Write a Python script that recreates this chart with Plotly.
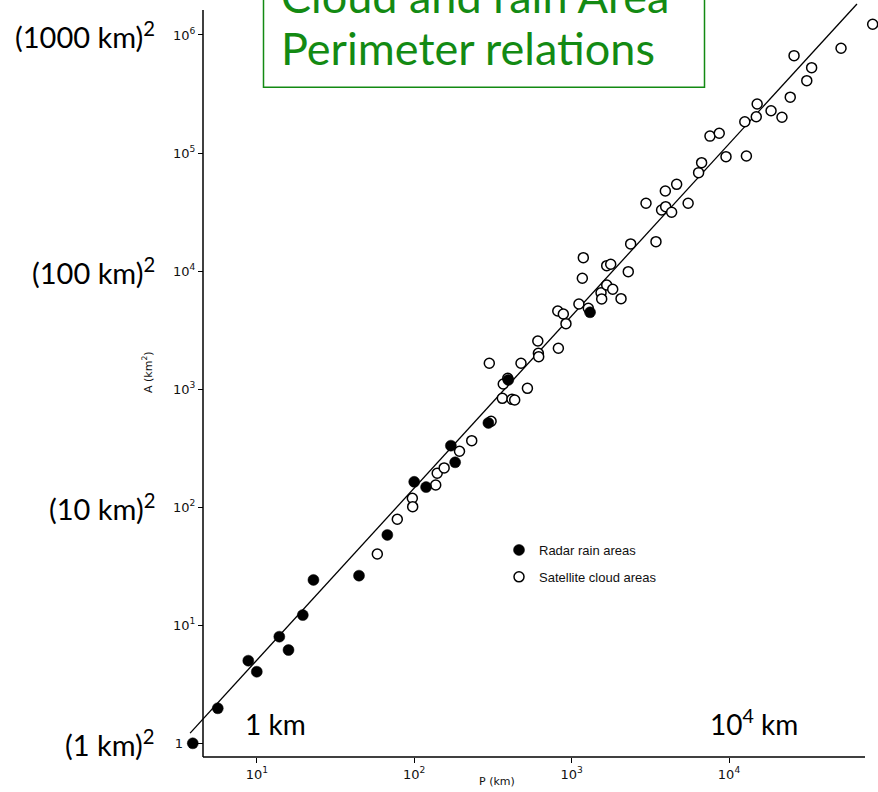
import math
import plotly.graph_objects as go

# ---------------- data ----------------
radar_P = [3.92, 5.65, 8.83, 10.0, 13.9, 15.9, 19.6, 22.9, 44.6, 67.5,
           100, 119, 171, 182, 296, 396, 1310]
radar_A = [1.0, 1.98, 5.01, 4.04, 8.0, 6.17, 12.2, 24.2, 26.3, 58.2,
           164, 148, 332, 240, 517, 1196, 4477]

sat_P = [58.3, 78.1, 97.3, 97.8, 137, 140, 155, 194, 232, 308,
         300, 363, 368, 393, 418, 435, 477, 524, 610, 615,
         618, 824, 817, 886, 921, 1113, 1277, 1170, 1187, 1538,
         1553, 1671, 1825, 2061, 1671, 1772, 2291, 2373, 3436, 2970,
         3730, 3960, 4320, 3940, 4650, 5500, 6410, 6700, 7570, 8670,
         9570, 12900, 12600, 14900, 15100, 18500, 21700, 24500, 25900, 31200,
         33500, 51500, 81800]
sat_A = [40.1, 79, 119, 101, 154, 194, 215, 298, 366, 534,
         1656, 836, 1106, 1236, 820, 809, 1656, 1016, 2559, 2013,
         1884, 2218, 4592, 4333, 3584, 5262, 4841, 8690, 12980, 6561,
         5806, 7621, 7014, 5838, 11110, 11420, 9885, 16980, 17750, 37500,
         32900, 35100, 31500, 47700, 54300, 37500, 68200, 82800, 139000, 147000,
         93100, 94400, 184000, 203000, 260000, 228000, 201000, 297000, 668000, 410000,
         528000, 772000, 1233000]

fit_P = [3.77, 65000]
fit_A = [1.22, 1.83e6]

x_tickvals = [10, 100, 1000, 10000]
x_ticktext = ["10<sup>1</sup>", "10<sup>2</sup>", "10<sup>3</sup>", "10<sup>4</sup>"]
y_tickvals = [1, 10, 100, 1000, 10000, 100000, 1000000]
y_ticktext = ["1&nbsp;&nbsp;&nbsp;", "10<sup>1</sup>", "10<sup>2</sup>", "10<sup>3</sup>",
              "10<sup>4</sup>", "10<sup>5</sup>", "10<sup>6</sup>"]

scale_labels = ["(1 km)<sup>2</sup>", "(10 km)<sup>2</sup>",
                "(100 km)<sup>2</sup>", "(1000 km)<sup>2</sup>"]
scale_label_A = [1, 100, 10000, 1000000]

title_lines = ["Cloud and rain Area", "Perimeter relations"]
series_names = ["Radar rain areas", "Satellite cloud areas"]

# ---------------- layout geometry ----------------
W, H = 878, 792
PL, PR, PT, PB = 180, 878, 0, 757   # plotting region (clip area)
AX = 203                            # pixel x of the drawn vertical axis
X_ZERO, X_DEC = 256.8, 157.4        # pixel of P=10 and pixels per decade
GREEN = "#138a13"

x_lo = 1 - (X_ZERO - PL) / X_DEC
x_hi = 1 + (PR - X_ZERO) / X_DEC


def px(x):
    return (x - PL) / (PR - PL)


def py(y):
    return (PB - y) / (PB - PT)


fig = go.Figure()

fig.add_trace(go.Scatter(x=fit_P, y=fit_A, mode="lines",
                         line=dict(color="black", width=1.3),
                         showlegend=False, hoverinfo="skip"))

fig.add_trace(go.Scatter(x=sat_P, y=sat_A, mode="markers", name=series_names[1],
                         legendgroup="b", legendrank=2, cliponaxis=False,
                         marker=dict(symbol="circle", size=10, color="white",
                                     line=dict(color="black", width=1.5))))

fig.add_trace(go.Scatter(x=radar_P, y=radar_A, mode="markers", name=series_names[0],
                         legendgroup="a", legendrank=1, cliponaxis=False,
                         marker=dict(symbol="circle", size=11, color="black",
                                     line=dict(color="black", width=0.5))))

tickfont = dict(family="DejaVu Sans", size=13, color="#111")

fig.update_xaxes(type="log", range=[x_lo, x_hi], showgrid=False, zeroline=False,
                 showline=False, ticks="outside", ticklen=5, tickcolor="black",
                 tickvals=x_tickvals, ticktext=x_ticktext, tickfont=tickfont)
fig.update_yaxes(type="log", range=[-0.116, 6.296], showgrid=False, zeroline=False,
                 showline=False, ticks="outside", ticklen=5, tickcolor="black",
                 anchor="free", position=px(AX),
                 tickvals=y_tickvals, ticktext=y_ticktext, tickfont=tickfont)

shapes = [
    dict(type="line", xref="paper", yref="paper", x0=px(AX), x1=px(865), y0=0, y1=0,
         line=dict(color="black", width=1.5)),
    dict(type="line", xref="paper", yref="paper", x0=px(AX), x1=px(AX), y0=0, y1=py(10),
         line=dict(color="black", width=1.5)),
    dict(type="rect", xref="paper", yref="paper", x0=px(263.5), x1=px(704.5),
         y0=py(87.3), y1=py(-20), line=dict(color=GREEN, width=1.5)),
]

annotations = []
for lab, a in zip(scale_labels, scale_label_A):
    annotations.append(dict(text=lab, xref="paper", yref="y", x=px(157),
                            y=math.log10(a), xanchor="right", yanchor="middle",
                            showarrow=False,
                            font=dict(family="Lato", size=29, color="black")))

for line_text, yc in zip(title_lines, [-4, 48]):
    annotations.append(dict(text=line_text, xref="paper", yref="paper",
                            x=px(279), y=py(yc), xanchor="left", yanchor="middle",
                            align="left", showarrow=False,
                            font=dict(family="Lato", size=45, color=GREEN)))

annotations += [
    dict(text="1 km", xref="paper", yref="paper", x=px(243), y=py(724),
         xanchor="left", yanchor="middle", showarrow=False,
         font=dict(family="Lato", size=28, color="black")),
    dict(text="10<sup>4</sup> km", xref="paper", yref="paper", x=px(708), y=py(722),
         xanchor="left", yanchor="middle", showarrow=False,
         font=dict(family="Lato", size=28, color="black")),
    dict(text="P (km)", xref="paper", yref="paper", x=px(497), y=py(781),
         xanchor="center", yanchor="middle", showarrow=False,
         font=dict(family="DejaVu Sans", size=11, color="#111")),
    dict(text="A (km<sup>2</sup>)", xref="paper", yref="paper", x=px(147), y=py(372),
         xanchor="center", yanchor="middle", showarrow=False, textangle=-90,
         font=dict(family="DejaVu Sans", size=11, color="#111")),
]

fig.update_layout(
    width=W, height=H,
    margin=dict(l=PL, r=W - PR, t=PT, b=H - PB, autoexpand=False),
    paper_bgcolor="white", plot_bgcolor="white",
    shapes=shapes, annotations=annotations,
    legend=dict(x=px(499), y=py(535), xanchor="left", yanchor="top",
                bgcolor="rgba(0,0,0,0)", tracegroupgap=7,
                font=dict(family="Liberation Sans", size=13, color="#111")),
    showlegend=True,
)

fig.write_html("out.html", config={"displayModeBar": False},
               post_script="document.body.style.margin='0';"
                           "document.body.style.padding='0';"
                           "document.body.style.overflow='hidden';")
